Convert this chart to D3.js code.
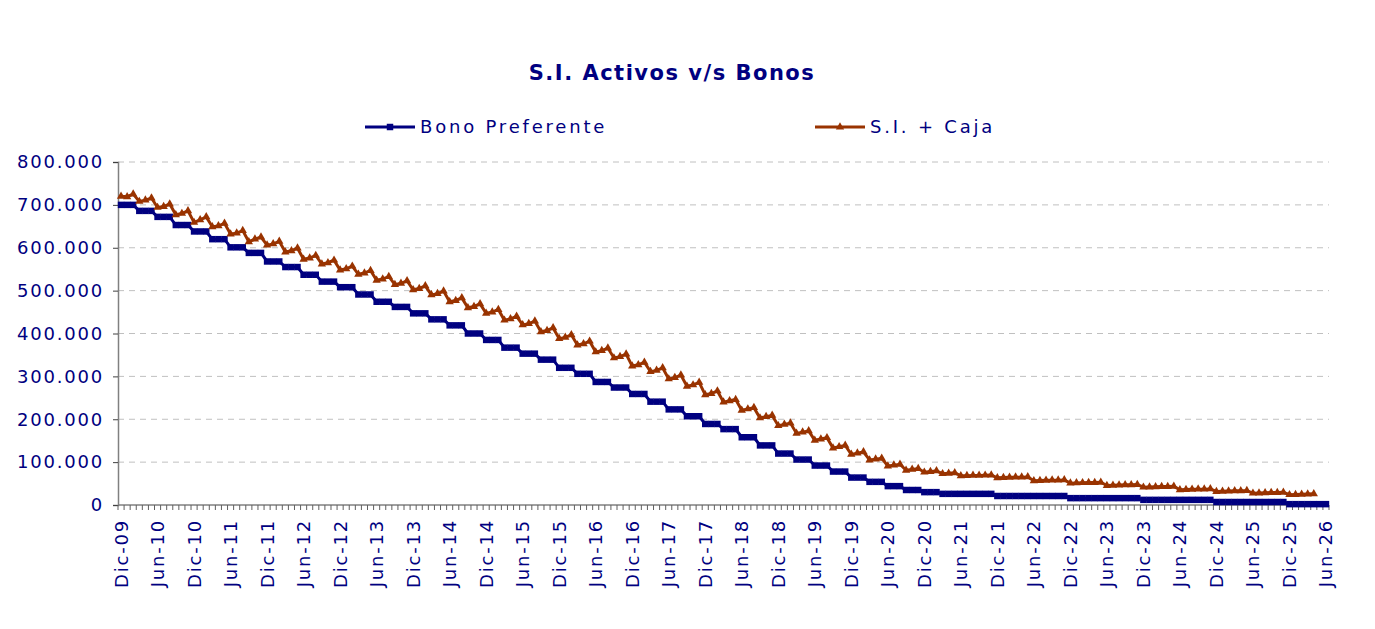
<!DOCTYPE html>
<html>
<head>
<meta charset="utf-8">
<script src="https://cdn.jsdelivr.net/npm/d3@7"></script>
<style>
  body { margin: 0; background: #fff; }
  text { font-family: "DejaVu Sans", Verdana, sans-serif; fill: #000080; }
</style>
</head>
<body>
<div id="grafico"></div>
<script>
// valores en miles
const mesesNombre = ["Ene", "Feb", "Mar", "Abr", "May", "Jun", "Jul", "Ago", "Sep", "Oct", "Nov", "Dic"]
const inicio = { mes: 11, anio: 2009 }   // Dic-09
const totalMeses = 199                  // hasta Jun-26

const bonoPreferente = [
  700, 700, 700, 686, 686, 686, 672, 672, 672, 653, 653, 653,
  638, 638, 638, 620, 620, 620, 601, 601, 601, 588, 588, 588,
  568, 568, 568, 555, 555, 555, 537, 537, 537, 521, 521, 521,
  508, 508, 508, 491, 491, 491, 474, 474, 474, 462, 462, 462,
  447, 447, 447, 433, 433, 433, 419, 419, 419, 400, 400, 400,
  385, 385, 385, 367, 367, 367, 353, 353, 353, 339, 339, 339,
  320, 320, 320, 306, 306, 306, 287, 287, 287, 274, 274, 274,
  259, 259, 259, 241, 241, 241, 223, 223, 223, 207, 207, 207,
  189, 189, 189, 177, 177, 177, 158, 158, 158, 139, 139, 139,
  120, 120, 120, 106, 106, 106, 92, 92, 92, 78, 78, 78,
  64, 64, 64, 54, 54, 54, 44, 44, 44, 35, 35, 35,
  30, 30, 30, 26, 26, 26, 26, 26, 26, 26, 26, 26,
  21, 21, 21, 21, 21, 21, 21, 21, 21, 21, 21, 21,
  16, 16, 16, 16, 16, 16, 16, 16, 16, 16, 16, 16,
  12, 12, 12, 12, 12, 12, 12, 12, 12, 12, 12, 12,
  7, 7, 7, 7, 7, 7, 7, 7, 7, 7, 7, 7,
  2, 2, 2, 2, 2, 2, 2
]

const siCaja = [
  720, 719, 725, 708, 711, 716, 694, 696, 702, 677, 680, 686,
  659, 665, 672, 649, 651, 657, 632, 634, 640, 614, 620, 625,
  606, 609, 615, 590, 593, 599, 573, 576, 582, 562, 565, 571,
  548, 551, 557, 538, 541, 547, 524, 527, 533, 514, 517, 523,
  502, 505, 511, 490, 493, 499, 474, 477, 483, 460, 463, 469,
  447, 450, 456, 431, 434, 440, 420, 423, 429, 404, 407, 413,
  388, 391, 397, 373, 376, 382, 357, 360, 366, 343, 346, 352,
  324, 327, 333, 311, 314, 320, 294, 297, 303, 277, 280, 286,
  257, 260, 266, 240, 243, 246, 221, 224, 227, 203, 206, 209,
  185, 188, 191, 167, 170, 173, 151, 154, 157, 133, 136, 139,
  118, 121, 124, 105, 107, 109, 91, 93, 95, 81, 83, 85,
  76.5, 78, 79.5, 73, 74, 75, 68, 68.5, 69, 69, 69.5, 70,
  63.5, 64, 64.5, 65, 65, 65.5, 56.5, 57, 57.5, 58, 58, 58.5,
  51, 51.5, 52, 52.5, 52.5, 53, 45.5, 46, 46.5, 47, 47, 47.5,
  41.5, 42, 42.5, 43, 43, 43.5, 35.5, 36, 36.5, 37, 37, 37.5,
  31.5, 32, 32.5, 33, 33, 33.5, 27.5, 28, 28.5, 29, 29, 29.5,
  24, 24.5, 25, 25.5, 26, null, null
]

const valoresY = [0, 100, 200, 300, 400, 500, 600, 700, 800]
const etiquetasY = ["0", "100.000", "200.000", "300.000", "400.000", "500.000", "600.000", "700.000", "800.000"]

const series = [
  { nombre: "Bono Preferente", valores: bonoPreferente, color: "#000080", marca: d3.symbolSquare, tam: 42, leyendaX: 365 },
  { nombre: "S.I. + Caja", valores: siCaja, color: "#993300", marca: d3.symbolTriangle, tam: 30, leyendaX: 815 },
]

const categorias = d3.range(totalMeses).map(i => {
  const m = (inicio.mes + i) % 12
  const a = inicio.anio + Math.floor((inicio.mes + i) / 12)
  return `${mesesNombre[m]}-${String(a % 100).padStart(2, "0")}`
})

const dim = {
  ancho: 1375,
  alto: 629,
  margen: { top: 162, right: 46, bottom: 124, left: 118 },
}
dim.grAncho = dim.ancho - dim.margen.left - dim.margen.right
dim.grAlto = dim.alto - dim.margen.top - dim.margen.bottom

const svg = d3.select("#grafico")
  .append("svg")
  .attr("width", dim.ancho)
  .attr("height", dim.alto)

const g = svg.append("g")
  .attr("transform", `translate(${dim.margen.left},${dim.margen.top})`)

const x = d3.scaleBand()
  .domain(categorias)
  .range([0, dim.grAncho])
  .padding(0)

const y = d3.scaleLinear()
  .domain([0, 800])
  .range([dim.grAlto, 0])

const xCentro = c => x(c) + x.bandwidth() / 2

// rejilla
g.append("g")
  .selectAll("line")
  .data(valoresY.filter(v => v > 0))
  .join("line")
    .attr("x1", 0)
    .attr("x2", dim.grAncho)
    .attr("y1", d => y(d))
    .attr("y2", d => y(d))
    .attr("stroke", "#c0c0c0")
    .attr("stroke-width", 1)
    .attr("stroke-dasharray", "6,5")

// eje Y
const ejeY = d3.axisLeft(y)
  .tickValues(valoresY)
  .tickFormat((d, i) => etiquetasY[i])
  .tickSize(5)
  .tickPadding(9)

const gY = g.append("g").call(ejeY)
gY.select(".domain").attr("stroke", "#808080").attr("stroke-width", 1.5)
gY.selectAll(".tick line").attr("stroke", "#404040")
gY.selectAll(".tick text")
  .attr("font-size", 18)
  .attr("letter-spacing", "1.8px")
  .attr("font-family", "DejaVu Sans")
  .attr("fill", "#000080")

// eje X
const gX = g.append("g").attr("transform", `translate(0,${dim.grAlto})`)
gX.append("line")
  .attr("x1", 0).attr("x2", dim.grAncho)
  .attr("stroke", "#808080").attr("stroke-width", 1.5)
gX.selectAll(".marca")
  .data(categorias.concat([null]))
  .join("line")
    .attr("class", "marca")
    .attr("x1", d => d === null ? dim.grAncho : x(d))
    .attr("x2", d => d === null ? dim.grAncho : x(d))
    .attr("y1", 0).attr("y2", 5)
    .attr("stroke", "#606060")
gX.selectAll(".etiqueta")
  .data(categorias.filter((d, i) => i % 6 === 0))
  .join("text")
    .attr("class", "etiqueta")
    .attr("transform", d => `translate(${xCentro(d)},14) rotate(-90)`)
    .attr("dy", "0.36em")
    .attr("text-anchor", "end")
    .attr("font-size", 18)
    .attr("letter-spacing", "1.8px")
    .text(d => d)

// series
const linea = d3.line()
  .defined(d => d.v !== null)
  .x(d => xCentro(d.c))
  .y(d => y(d.v))

series.forEach(s => {
  const datos = categorias.map((c, i) => ({ c, v: s.valores[i] }))
  g.append("path")
    .datum(datos)
    .attr("fill", "none")
    .attr("stroke", s.color)
    .attr("stroke-width", 3)
    .attr("d", linea)
  g.append("g")
    .selectAll("path")
    .data(datos.filter(d => d.v !== null))
    .join("path")
      .attr("transform", d => `translate(${xCentro(d.c)},${y(d.v)})`)
      .attr("d", d3.symbol(s.marca, s.tam))
      .attr("fill", s.color)
})

// leyenda
const leyenda = svg.append("g").attr("transform", "translate(0,127)")
series.forEach(s => {
  leyenda.append("line")
    .attr("x1", s.leyendaX).attr("x2", s.leyendaX + 50)
    .attr("stroke", s.color).attr("stroke-width", 3)
  leyenda.append("path")
    .attr("transform", `translate(${s.leyendaX + 25},0)`)
    .attr("d", d3.symbol(s.marca, s.tam))
    .attr("fill", s.color)
  leyenda.append("text")
    .attr("x", s.leyendaX + 55)
    .attr("dy", "0.36em")
    .attr("font-size", 18)
    .attr("letter-spacing", "2.8px")
    .text(s.nombre)
})

// titulo
svg.append("text")
  .attr("x", 672)
  .attr("y", 80)
  .attr("text-anchor", "middle")
  .attr("font-size", 21)
  .attr("font-weight", "bold")
  .attr("letter-spacing", "1.5px")
  .text("S.I. Activos v/s Bonos")
</script>
</body>
</html>
